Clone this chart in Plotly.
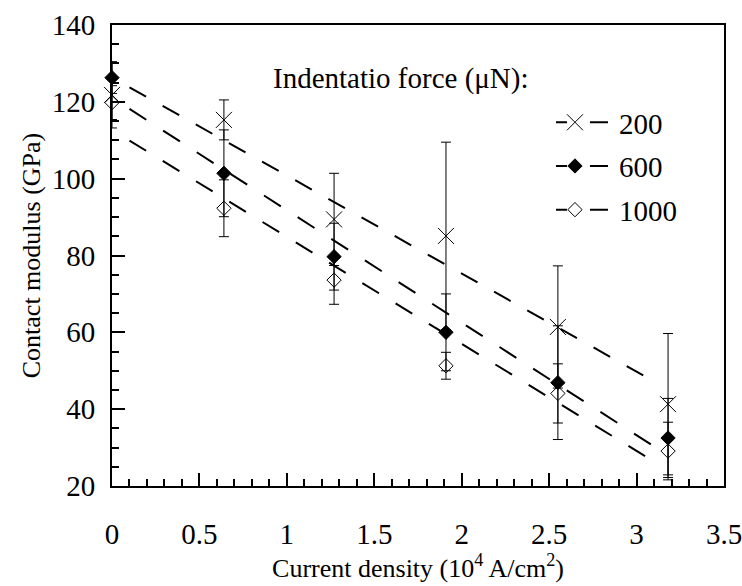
import numpy as np
import plotly.graph_objects as go

# ---- data ----
current_density = [0.0, 0.64, 1.27, 1.91, 2.55, 3.18]

modulus_200 = [121.8, 115.3, 89.4, 85.1, 61.4, 41.3]
error_200 = [8.6, 5.2, 12.0, 24.4, 15.9, 18.4]

modulus_600 = [126.3, 101.4, 79.7, 60.0, 46.9, 32.5]
error_600 = [4.1, 11.3, 8.7, 10.0, 14.8, 10.3]

modulus_1000 = [119.8, 92.3, 73.6, 51.3, 44.1, 29.1]
error_1000 = [4.4, 7.4, 6.3, 3.5, 7.7, 7.5]

series_names = ["200", "600", "1000"]
x_ticks = [0, 0.5, 1, 1.5, 2, 2.5, 3, 3.5]
x_tick_text = ["0", "0.5", "1", "1.5", "2", "2.5", "3", "3.5"]
y_ticks = [20, 40, 60, 80, 100, 120, 140]
fit_range = [0.1, 3.1]

FONT = "Liberation Serif"
FS_TITLE = 26
FS_TICK = 29

series = [
    (series_names[0], modulus_200, error_200, "x-thin-open", 16, "19px,19px"),
    (series_names[1], modulus_600, error_600, "diamond", 11, "20px,20px"),
    (series_names[2], modulus_1000, error_1000, "diamond-open", 11, "19.5px,19.5px"),
]
LEGEND_DASH = "0px,20px,11px,23px,18px,6px"

fig = go.Figure()

# dashed linear fits
for name, y, err, sym, size, dash in series:
    slope, intercept = np.polyfit(current_density, y, 1)
    xf = np.array(fit_range)
    fig.add_trace(go.Scatter(
        x=xf, y=slope * xf + intercept, mode="lines",
        line=dict(color="black", width=2, dash=dash),
        showlegend=False, hoverinfo="skip", cliponaxis=False))

# data points with error bars
for name, y, err, sym, size, dash in series:
    fig.add_trace(go.Scatter(
        x=current_density, y=y, mode="markers",
        marker=dict(symbol=sym, size=size, color="black",
                    line=dict(color="black", width=1)),
        error_y=dict(type="data", array=err, visible=True,
                     color="black", thickness=1, width=5),
        showlegend=False, cliponaxis=False))

# legend entries
for i, (name, y, err, sym, size, dash) in enumerate(series):
    fig.add_trace(go.Scatter(
        x=[None], y=[None], mode="lines+markers", name=name,
        legendgroup=name,
        marker=dict(symbol=sym, size=size, color="black",
                    line=dict(color="black", width=1)),
        line=dict(color="black", width=2, dash=LEGEND_DASH)))

fig.add_annotation(
    text="Indentatio force (\u03bcN):", x=0.259, y=0.885,
    xref="paper", yref="paper", xanchor="left", yanchor="middle",
    showarrow=False, font=dict(family=FONT, size=FS_TICK, color="black"))

fig.update_layout(
    width=742, height=586,
    margin=dict(l=112, r=18, t=25, b=100),
    paper_bgcolor="white", plot_bgcolor="white",
    font=dict(family=FONT, size=FS_TITLE, color="black"),
    legend=dict(x=0.6846, y=0.844, xanchor="left", yanchor="top",
                bgcolor="rgba(0,0,0,0)", tracegroupgap=3,
                itemwidth=78, font=dict(family=FONT, size=FS_TICK)),
)

fig.update_xaxes(
    range=[0, 3.5], tickvals=x_ticks, ticktext=x_tick_text,
    automargin=False,
    showgrid=False, zeroline=False,
    showline=True, linecolor="black", linewidth=2, mirror=True,
    ticks="inside", ticklen=13, tickwidth=2, tickcolor="black",
    minor=dict(dtick=0.1, ticks="inside", ticklen=7, tickwidth=2, tickcolor="black"),
    ticklabelstandoff=21, ticklabeloverflow="allow",
    tickfont=dict(family=FONT, size=FS_TICK),
    title=dict(text="Current density (10<sup>4</sup> A/cm<sup>2</sup>)",
               font=dict(family=FONT, size=FS_TITLE), standoff=10),
)
fig.update_yaxes(
    range=[20, 140], tickvals=y_ticks,
    automargin=False,
    showgrid=False, zeroline=False,
    showline=True, linecolor="black", linewidth=2, mirror=True,
    ticks="inside", ticklen=13, tickwidth=2, tickcolor="black",
    minor=dict(dtick=5, ticks="inside", ticklen=7, tickwidth=2, tickcolor="black"),
    ticklabelstandoff=9, ticklabeloverflow="allow",
    tickfont=dict(family=FONT, size=FS_TICK),
    title=dict(text="Contact modulus (GPa)", font=dict(family=FONT, size=FS_TITLE), standoff=4),
)

fig.write_html("out.html")
